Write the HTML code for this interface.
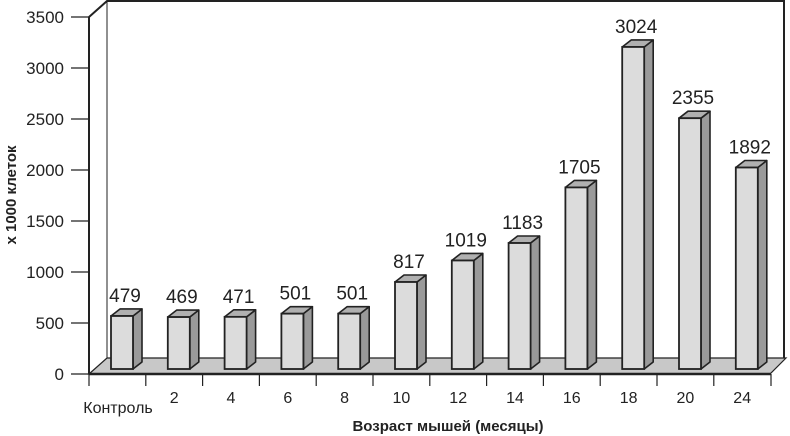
<!DOCTYPE html>
<html><head><meta charset="utf-8"><style>
body{margin:0;background:#fff}
svg{display:block;font-family:"Liberation Sans",Arial,sans-serif}
</style></head><body>
<svg width="790" height="436" viewBox="0 0 790 436" xmlns="http://www.w3.org/2000/svg">
<polyline points="89,17 107,1 784,1 784,358" fill="none" stroke="#222" stroke-width="2"/>
<line x1="107" y1="1" x2="107" y2="358" stroke="#222" stroke-width="1"/>
<polygon points="89,374 107,358 786,358 770,374" fill="#c8c8c8" stroke="#222" stroke-width="1.2"/>
<line x1="89" y1="374" x2="771" y2="374" stroke="#222" stroke-width="2.5"/>
<line x1="89" y1="17" x2="89" y2="374" stroke="#222" stroke-width="2"/>
<g stroke="#222" stroke-width="1.2">
<line x1="71" y1="17" x2="89" y2="17"/><line x1="71" y1="68" x2="89" y2="68"/><line x1="71" y1="119" x2="89" y2="119"/><line x1="71" y1="170" x2="89" y2="170"/><line x1="71" y1="221" x2="89" y2="221"/><line x1="71" y1="272" x2="89" y2="272"/><line x1="71" y1="323" x2="89" y2="323"/><line x1="71" y1="374" x2="89" y2="374"/>
</g>
<g font-size="17" text-anchor="end" fill="#222">
<text x="64" y="23">3500</text><text x="64" y="74">3000</text><text x="64" y="125">2500</text><text x="64" y="176">2000</text><text x="64" y="227">1500</text><text x="64" y="278">1000</text><text x="64" y="329">500</text><text x="64" y="380">0</text>
</g>
<text transform="translate(16,195) rotate(-90)" font-size="15" font-weight="bold" text-anchor="middle" fill="#222">x 1000 клеток</text>
<g id="bars"></g>
<g id="xt"></g>
<text x="448" y="431" font-size="15" font-weight="bold" text-anchor="middle" fill="#222">Возраст мышей (месяцы)</text>
<script>
var vals=[479,469,471,501,501,817,1019,1183,1705,3024,2355,1892];
var labs=["Контроль","2","4","6","8","10","12","14","16","18","20","24"];
var ns="http://www.w3.org/2000/svg",g=document.getElementById("bars"),xt=document.getElementById("xt");
function el(p,t,a){var e=document.createElementNS(ns,t);for(var k in a)e.setAttribute(k,a[k]);p.appendChild(e);return e;}
for(var i=0;i<12;i++){
 var c=122+i*56.8,l=c-11,r=c+11,b=369,t=369-vals[i]*0.1065-(i<5?2:0);
 el(g,"polygon",{points:r+","+b+" "+(r+9)+","+(b-7)+" "+(r+9)+","+(t-7)+" "+r+","+t,fill:"#9a9a9a",stroke:"#222","stroke-width":"1.6","stroke-linejoin":"round"});
 el(g,"polygon",{points:l+","+t+" "+(l+9)+","+(t-7)+" "+(r+9)+","+(t-7)+" "+r+","+t,fill:"#b0b0b0",stroke:"#222","stroke-width":"1.6","stroke-linejoin":"round"});
 el(g,"rect",{x:l,y:t,width:22,height:b-t,fill:"#dcdcdc",stroke:"#222","stroke-width":"1.8"});
 var tx=el(g,"text",{x:c+3,y:t-14,"font-size":"19","text-anchor":"middle",fill:"#222"});tx.textContent=vals[i];
 var x0=89+i*56.8;
 el(xt,"line",{x1:x0,y1:374,x2:x0,y2:386,stroke:"#222","stroke-width":"1.2"});
 var lt=el(xt,"text",{x:i==0?118:x0+28.4,y:i==0?413:403,"font-size":"16","text-anchor":"middle",fill:"#222"});lt.textContent=labs[i];
}
el(xt,"line",{x1:771,y1:374,x2:771,y2:386,stroke:"#222","stroke-width":"1.2"});
</script>
</svg>
</body></html>
